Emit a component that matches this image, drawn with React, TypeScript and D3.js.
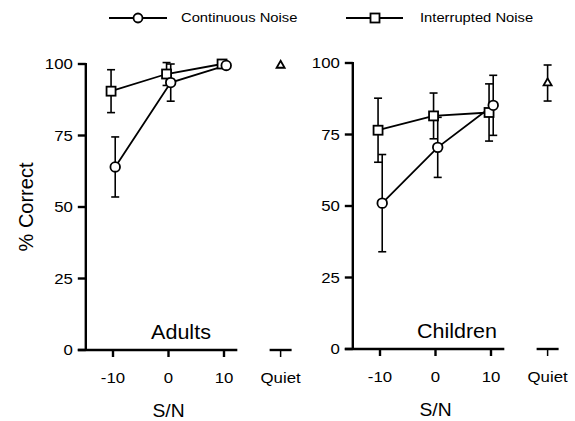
import React, { useRef, useEffect } from 'react';
import * as d3 from 'd3';

const snr = [-10, 0, 10];
const snrTicks = ['-10', '0', '10'];
const yTicks = [0, 25, 50, 75, 100];

const adultsContinuous = [64, 93.5, 99.5];
const adultsContinuousErr = [10.5, 6.5, 0];
const adultsInterrupted = [90.5, 96.5, 100];
const adultsInterruptedErr = [7.5, 4, 0];
const adultsQuiet = 99.5;
const adultsQuietErr = 0;

const childrenContinuous = [51, 70.5, 85.2];
const childrenContinuousErr = [17, 10.5, 10.5];
const childrenInterrupted = [76.5, 81.5, 82.7];
const childrenInterruptedErr = [11.2, 8, 10];
const childrenQuiet = 93;
const childrenQuietErr = 6.3;

const panels = [
  { label: 'Adults', cont: adultsContinuous, contErr: adultsContinuousErr, intr: adultsInterrupted, intrErr: adultsInterruptedErr, quiet: adultsQuiet, quietErr: adultsQuietErr, dx: 0, dy: 0, labelX: 181 },
  { label: 'Children', cont: childrenContinuous, contErr: childrenContinuousErr, intr: childrenInterrupted, intrErr: childrenInterruptedErr, quiet: childrenQuiet, quietErr: childrenQuietErr, dx: 267, dy: -1, labelX: 190 },
];

const QUIET_X = 20.2;
const FONT = 'Liberation Sans, Arial, sans-serif';

type Sel = d3.Selection<any, unknown, null, undefined>;

// the scanned figure is slightly stretched sideways, so text gets a small x scale
function label(g: Sel, x: number, y: number, text: string, size: number, sx: number, anchor = 'middle') {
  g.append('text')
    .attr('transform', `translate(${x},${y}) scale(${sx},1)`)
    .attr('text-anchor', anchor)
    .attr('font-size', `${size}px`)
    .attr('font-family', FONT)
    .attr('fill', '#000')
    .text(text);
}

export default function App() {
  const svgRef = useRef<SVGSVGElement>(null);

  useEffect(() => {
    if (!svgRef.current) return;
    const svg = d3.select(svgRef.current);
    svg.selectAll('*').remove();

    // legend
    const leg = svg.append('g');
    leg.append('line').attr('x1', 109).attr('x2', 167).attr('y1', 18).attr('y2', 18).attr('stroke', '#000').attr('stroke-width', 1.8);
    leg.append('circle').attr('cx', 138).attr('cy', 18).attr('r', 4.5).attr('fill', '#fff').attr('stroke', '#000').attr('stroke-width', 1.8);
    label(leg, 181, 22, 'Continuous Noise', 12, 1.23, 'start');
    leg.append('line').attr('x1', 346).attr('x2', 403).attr('y1', 18).attr('y2', 18).attr('stroke', '#000').attr('stroke-width', 1.8);
    leg.append('rect').attr('x', 370.5).attr('y', 13.5).attr('width', 9).attr('height', 9).attr('fill', '#fff').attr('stroke', '#000').attr('stroke-width', 1.8);
    label(leg, 420, 22, 'Interrupted Noise', 12, 1.23, 'start');

    // y axis title
    svg.append('text')
      .attr('transform', 'rotate(-90)')
      .attr('x', -207).attr('y', 33)
      .attr('text-anchor', 'middle').attr('font-size', '20px').attr('font-family', FONT)
      .text('% Correct');

    panels.forEach(p => {
      const g = svg.append('g').attr('transform', `translate(${p.dx},${p.dy})`);
      const x = d3.scaleLinear().domain([-10, 10]).range([113, 224]);
      const y = d3.scaleLinear().domain([0, 100]).range([350, 64]);
      const x0 = x(-14.9);
      const x1 = x(12.4);
      const axisW = 2.4;

      // axes
      g.append('line').attr('x1', x0).attr('x2', x0).attr('y1', y(100) - 1).attr('y2', y(0)).attr('stroke', '#000').attr('stroke-width', axisW);
      g.append('line').attr('x1', x0 - 8).attr('x2', x1).attr('y1', y(0)).attr('y2', y(0)).attr('stroke', '#000').attr('stroke-width', axisW);
      yTicks.forEach(t => {
        g.append('line').attr('x1', x0 - 8).attr('x2', x0).attr('y1', y(t)).attr('y2', y(t)).attr('stroke', '#000').attr('stroke-width', axisW);
        label(g, x0 - 13, y(t) + 5, String(t), 15, 1.12, 'end');
      });
      snr.forEach((s, i) => {
        g.append('line').attr('x1', x(s)).attr('x2', x(s)).attr('y1', y(0)).attr('y2', y(0) + 7).attr('stroke', '#000').attr('stroke-width', axisW);
        label(g, x(s), y(0) + 33, snrTicks[i], 15, 1.12);
      });
      // quiet segment
      const xq = x(QUIET_X);
      g.append('line').attr('x1', xq - 11).attr('x2', xq + 11).attr('y1', y(0)).attr('y2', y(0)).attr('stroke', '#000').attr('stroke-width', axisW);
      g.append('line').attr('x1', xq).attr('x2', xq).attr('y1', y(0)).attr('y2', y(0) + 7).attr('stroke', '#000').attr('stroke-width', 1.5);
      label(g, xq, y(0) + 33, 'Quiet', 15, 1.12);

      label(g, x(0), y(0) + 67, 'S/N', 18, 1.07);
      label(g, p.labelX, y(0) - 11, p.label, 20.5, 1.05);

      const dodge = { cont: 0.4, intr: -0.35 };
      const errBar = (cx: number, v: number, e: number) => {
        if (e <= 0) return;
        g.append('line').attr('x1', cx).attr('x2', cx).attr('y1', y(v - e)).attr('y2', y(v + e)).attr('stroke', '#000').attr('stroke-width', 1.6);
        [v - e, v + e].forEach(c => {
          g.append('line').attr('x1', cx - 4).attr('x2', cx + 4).attr('y1', y(c)).attr('y2', y(c)).attr('stroke', '#000').attr('stroke-width', 1.6);
        });
      };

      p.intr.forEach((v, i) => errBar(x(snr[i] + dodge.intr), v, p.intrErr[i]));
      p.cont.forEach((v, i) => errBar(x(snr[i] + dodge.cont), v, p.contErr[i]));
      errBar(xq, p.quiet, p.quietErr);

      const lineI = d3.line<number>().x((_, i) => x(snr[i] + dodge.intr)).y(d => y(d));
      const lineC = d3.line<number>().x((_, i) => x(snr[i] + dodge.cont)).y(d => y(d));
      g.append('path').datum(p.intr).attr('d', lineI).attr('fill', 'none').attr('stroke', '#000').attr('stroke-width', 1.8);
      g.append('path').datum(p.cont).attr('d', lineC).attr('fill', 'none').attr('stroke', '#000').attr('stroke-width', 1.8);

      p.intr.forEach((v, i) => {
        g.append('rect').attr('x', x(snr[i] + dodge.intr) - 4.5).attr('y', y(v) - 4.5).attr('width', 9).attr('height', 9)
          .attr('fill', '#fff').attr('stroke', '#000').attr('stroke-width', 1.8);
      });
      p.cont.forEach((v, i) => {
        g.append('circle').attr('cx', x(snr[i] + dodge.cont)).attr('cy', y(v)).attr('r', 4.8)
          .attr('fill', '#fff').attr('stroke', '#000').attr('stroke-width', 1.8);
      });
      const tri = d3.symbol().type(d3.symbolTriangle).size(28);
      g.append('path').attr('d', tri()).attr('transform', `translate(${xq},${y(p.quiet)})`)
        .attr('fill', '#fff').attr('stroke', '#000').attr('stroke-width', 1.8);
    });
  }, []);

  return (
    <div style={{ position: 'absolute', left: 0, top: 0 }}>
      <svg ref={svgRef} width={575} height={421} style={{ display: 'block', background: '#fff' }} />
    </div>
  );
}
